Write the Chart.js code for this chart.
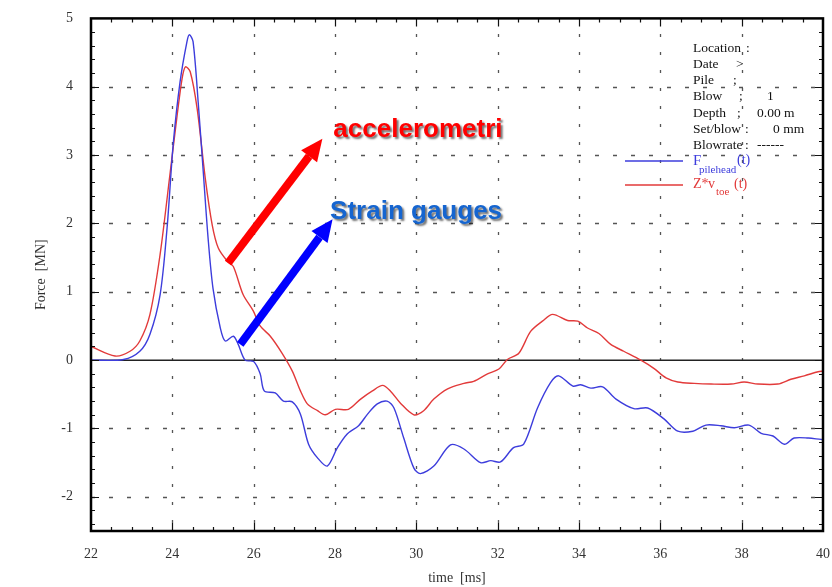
<!DOCTYPE html>
<html>
<head>
<meta charset="utf-8">
<script src="https://cdn.jsdelivr.net/npm/chart.js@4/dist/chart.umd.min.js"></script>
<style>
  html, body { margin: 0; padding: 0; background: #fff; }
  #wrap { width: 832px; height: 587px; }
</style>
</head>
<body>
<div id="wrap"><canvas id="myChart"></canvas></div>
<script>
// F pilehead (blue)
const blueTime = [22, 22.8, 23.2, 23.45, 23.7, 23.87, 24.02, 24.19, 24.36, 24.42, 24.51, 24.64, 24.76, 24.88, 25.0, 25.18, 25.3, 25.5, 25.62, 25.79, 26.0, 26.16, 26.26, 26.53, 26.73, 26.95, 27.15, 27.35, 27.57, 27.81, 28.06, 28.3, 28.58, 28.8, 29.04, 29.28, 29.45, 29.69, 29.94, 30.1, 30.43, 30.84, 31.17, 31.58, 31.83, 32.07, 32.39, 32.64, 32.98, 33.3, 33.5, 33.85, 34.04, 34.29, 34.58, 34.91, 35.35, 35.69, 36.09, 36.43, 36.8, 37.12, 37.49, 37.82, 38.18, 38.48, 38.77, 39.05, 39.29, 39.64, 39.95, 40];
const blueForce = [0, 0.01, 0.13, 0.38, 0.96, 1.93, 3.15, 4.07, 4.66, 4.76, 4.66, 3.74, 2.76, 1.78, 1.05, 0.47, 0.28, 0.35, 0.23, 0, -0.02, -0.2, -0.45, -0.48, -0.6, -0.61, -0.79, -1.23, -1.43, -1.55, -1.28, -1.08, -0.96, -0.79, -0.64, -0.6, -0.7, -1.14, -1.58, -1.66, -1.55, -1.24, -1.3, -1.5, -1.47, -1.49, -1.28, -1.23, -0.7, -0.33, -0.23, -0.38, -0.36, -0.41, -0.39, -0.57, -0.71, -0.7, -0.86, -1.04, -1.04, -0.95, -0.96, -0.99, -0.95, -1.07, -1.11, -1.23, -1.14, -1.14, -1.16, -1.16];

// Z* v toe (red)
const redTime = [22, 22.59, 22.96, 23.2, 23.45, 23.7, 23.95, 24.12, 24.24, 24.32, 24.44, 24.61, 24.81, 24.98, 25.13, 25.35, 25.5, 25.74, 25.99, 26.16, 26.41, 26.7, 26.95, 27.15, 27.32, 27.57, 27.76, 28.01, 28.33, 28.63, 28.92, 29.17, 29.36, 29.61, 29.94, 30.18, 30.43, 30.77, 31.17, 31.41, 31.75, 32.03, 32.24, 32.52, 32.81, 33.1, 33.35, 33.72, 33.97, 34.21, 34.49, 34.78, 35.1, 35.52, 35.84, 36.14, 36.43, 36.83, 37.25, 37.74, 38.06, 38.4, 38.89, 39.21, 39.54, 39.88, 40];
const redForce = [0.2, 0.06, 0.13, 0.28, 0.67, 1.55, 2.76, 3.59, 4.12, 4.29, 4.22, 3.68, 2.66, 1.98, 1.64, 1.45, 1.37, 0.96, 0.72, 0.5, 0.35, 0.1, -0.16, -0.45, -0.64, -0.74, -0.8, -0.72, -0.72, -0.57, -0.45, -0.37, -0.45, -0.63, -0.8, -0.74, -0.57, -0.42, -0.34, -0.31, -0.2, -0.13, 0.01, 0.1, 0.42, 0.57, 0.67, 0.58, 0.57, 0.47, 0.39, 0.23, 0.13, 0, -0.12, -0.26, -0.32, -0.34, -0.35, -0.35, -0.32, -0.35, -0.35, -0.28, -0.23, -0.17, -0.16];

const xTicks = [22, 24, 26, 28, 30, 32, 34, 36, 38, 40];
const yTicks = [-2, -1, 0, 1, 2, 3, 4, 5];

// label, separator, value (+ x of separator and value)
const infoLines = [
    ['Location', ':', '', 746, 0],
    ['Date', '>', '', 736, 0],
    ['Pile', ';', '', 733, 0],
    ['Blow', ';', '1', 739, 767],
    ['Depth', ';', '0.00 m', 737, 757],
    ['Set/blow', ':', '0 mm', 745, 773],
    ['Blowrate', ':', '------', 745, 757],
];

const BLUE = '#3d3ddc';
const RED = '#e23a3a';
const SERIF = '"Liberation Serif", "DejaVu Serif", serif';

function pts(t, v) {
    return t.map((x, i) => ({ x: x, y: v[i] }));
}

function arrow(ctx, x1, y1, x2, y2, color) {
    const ang = Math.atan2(y2 - y1, x2 - x1);
    const head = 22, half = 10;
    const bx = x2 - head * Math.cos(ang), by = y2 - head * Math.sin(ang);
    ctx.save();
    ctx.strokeStyle = color;
    ctx.fillStyle = color;
    ctx.lineWidth = 8;
    ctx.beginPath();
    ctx.moveTo(x1, y1);
    ctx.lineTo(bx, by);
    ctx.stroke();
    ctx.beginPath();
    ctx.moveTo(x2, y2);
    ctx.lineTo(bx + half * Math.sin(ang), by - half * Math.cos(ang));
    ctx.lineTo(bx - half * Math.sin(ang), by + half * Math.cos(ang));
    ctx.closePath();
    ctx.fill();
    ctx.restore();
}

const frame = {
    id: 'frame',
    beforeDatasetsDraw(chart) {
        const { ctx, chartArea: a, scales: { x, y } } = chart;
        ctx.save();
        ctx.strokeStyle = '#555';
        ctx.lineWidth = 1.3;
        ctx.setLineDash([4, 14]);
        yTicks.forEach(v => {
            if (v === 0 || v === 5) return;
            const py = Math.round(y.getPixelForValue(v)) + 0.5;
            ctx.beginPath(); ctx.moveTo(a.left, py); ctx.lineTo(a.right, py); ctx.stroke();
        });
        ctx.setLineDash([3, 15]);
        ctx.lineDashOffset = -8;
        xTicks.forEach(v => {
            if (v === 22 || v === 40) return;
            const px = Math.round(x.getPixelForValue(v)) + 0.5;
            ctx.beginPath(); ctx.moveTo(px, a.bottom); ctx.lineTo(px, a.top); ctx.stroke();
        });
        ctx.setLineDash([]);
        // zero line
        ctx.strokeStyle = '#222';
        ctx.lineWidth = 1.5;
        const py0 = y.getPixelForValue(0);
        ctx.beginPath(); ctx.moveTo(a.left, py0); ctx.lineTo(a.right, py0); ctx.stroke();
        ctx.restore();
    },
    afterDraw(chart) {
        const { ctx, chartArea: a, scales: { x, y } } = chart;
        ctx.save();
        // minor / major ticks
        ctx.strokeStyle = '#111';
        ctx.lineWidth = 1.2;
        for (let v = -2.4; v < 5; v += 0.2) {
            const vv = Math.round(v * 10) / 10;
            const len = Number.isInteger(vv) ? 8 : 4;
            const py = Math.round(y.getPixelForValue(vv)) + 0.5;
            ctx.beginPath();
            ctx.moveTo(a.left, py); ctx.lineTo(a.left + len, py);
            ctx.moveTo(a.right, py); ctx.lineTo(a.right - len, py);
            ctx.stroke();
        }
        for (let v = 22.5; v < 40; v += 0.5) {
            const len = v % 2 === 0 ? 8 : 4;
            const px = Math.round(x.getPixelForValue(v)) + 0.5;
            ctx.beginPath();
            ctx.moveTo(px, a.bottom); ctx.lineTo(px, a.bottom - len);
            ctx.moveTo(px, a.top); ctx.lineTo(px, a.top + len);
            ctx.stroke();
        }
        // frame
        ctx.lineWidth = 2.5;
        ctx.strokeStyle = '#000';
        ctx.strokeRect(a.left, a.top, a.right - a.left, a.bottom - a.top);

        // info block
        ctx.fillStyle = '#111';
        ctx.font = '13.5px ' + SERIF;
        ctx.textBaseline = 'middle';
        ctx.textAlign = 'left';
        infoLines.forEach((l, i) => {
            const ly = 48 + i * 16.3;
            ctx.fillText(l[0], 693, ly);
            ctx.fillText(l[1], l[3], ly);
            if (l[2]) ctx.fillText(l[2], l[4], ly);
        });

        // legend
        ctx.lineWidth = 1.3;
        ctx.strokeStyle = BLUE;
        ctx.beginPath(); ctx.moveTo(625, 161); ctx.lineTo(683, 161); ctx.stroke();
        ctx.strokeStyle = RED;
        ctx.beginPath(); ctx.moveTo(625, 185); ctx.lineTo(683, 185); ctx.stroke();
        ctx.fillStyle = BLUE;
        ctx.font = '15px ' + SERIF;
        ctx.fillText('F', 693, 161);
        ctx.font = '11px ' + SERIF;
        ctx.fillText('pilehead', 699, 170);
        ctx.font = '14px ' + SERIF;
        ctx.fillText('(t)', 737, 160);
        ctx.fillStyle = RED;
        ctx.fillText('Z*', 693, 184);
        ctx.fillText('v', 708, 184);
        ctx.font = '11px ' + SERIF;
        ctx.fillText('toe', 716, 192);
        ctx.font = '14px ' + SERIF;
        ctx.fillText('(t)', 734, 184);

        // annotation arrows and labels
        arrow(ctx, x.getPixelForValue(25.37), y.getPixelForValue(1.42), x.getPixelForValue(27.69), y.getPixelForValue(3.24), '#ff0000');
        arrow(ctx, x.getPixelForValue(25.67), y.getPixelForValue(0.23), x.getPixelForValue(27.94), y.getPixelForValue(2.06), '#0000ff');

        ctx.font = 'bold 26px "Liberation Sans", Arial, sans-serif';
        ctx.textBaseline = 'alphabetic';
        ctx.shadowColor = 'rgba(0,0,0,0.55)';
        ctx.shadowOffsetX = 2;
        ctx.shadowOffsetY = 2;
        ctx.shadowBlur = 2;
        ctx.fillStyle = '#ff0000';
        ctx.fillText('accelerometri', x.getPixelForValue(27.96), y.getPixelForValue(3.27));
        ctx.fillStyle = '#1565d0';
        ctx.fillText('Strain gauges', x.getPixelForValue(27.88), y.getPixelForValue(2.06));
        ctx.restore();
    }
};

const ctx = document.getElementById('myChart').getContext('2d');

const myChart = new Chart(ctx, {
    type: 'line',
    data: {
        datasets: [{
                label: 'F pilehead(t)',
                data: pts(blueTime, blueForce),
                borderColor: BLUE,
                borderWidth: 1.4,
                pointRadius: 0,
                tension: 0.3,
            },
            {
                label: 'Z* v toe(t)',
                data: pts(redTime, redForce),
                borderColor: RED,
                borderWidth: 1.4,
                pointRadius: 0,
                tension: 0.3,
            }
        ]
    },
    options: {
        responsive: true,
        maintainAspectRatio: false,
        animation: false,
        layout: { padding: { top: 17, right: 9, bottom: 0, left: 0 } },
        plugins: {
            legend: { display: false },
            tooltip: { enabled: false },
        },
        scales: {
            x: {
                type: 'linear',
                min: 22,
                max: 40,
                afterBuildTicks: (s) => { s.ticks = xTicks.map(v => ({ value: v })); },
                afterFit: (s) => { s.height = 56; s.paddingRight = 0; },
                grid: { display: false },
                border: { display: false },
                ticks: {
                    color: '#333',
                    padding: 7,
                    maxRotation: 0,
                    font: { family: SERIF, size: 14 },
                },
                title: {
                    display: true,
                    text: 'time  [ms]',
                    color: '#333',
                    padding: { top: 0, bottom: 0 },
                    font: { family: SERIF, size: 14 },
                },
            },
            y: {
                type: 'linear',
                min: -2.5,
                max: 5,
                afterBuildTicks: (s) => { s.ticks = yTicks.map(v => ({ value: v })); },
                afterFit: (s) => { s.width = 91; },
                grid: { display: false },
                border: { display: false },
                ticks: {
                    color: '#333',
                    padding: 10,
                    font: { family: SERIF, size: 14 },
                },
                title: {
                    display: true,
                    text: 'Force  [MN]',
                    color: '#333',
                    padding: { top: 33, bottom: 0 },
                    font: { family: SERIF, size: 14 },
                },
            }
        }
    },
    plugins: [frame]
});
</script>
</body>
</html>
